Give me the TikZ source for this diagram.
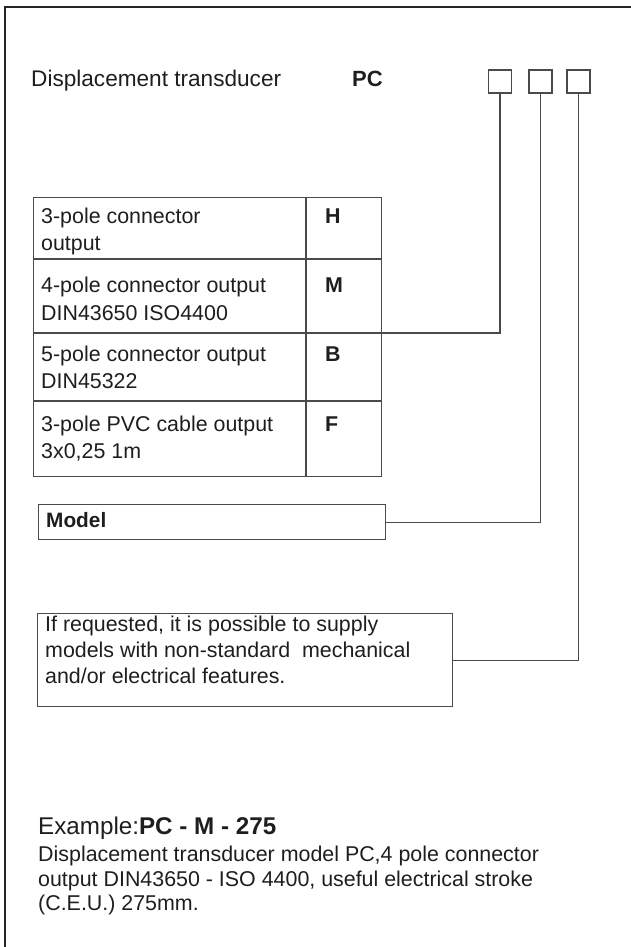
\documentclass[tikz,border=0pt]{standalone}
\usepackage{fontspec}
\setmainfont{Liberation Sans}
\definecolor{ink}{HTML}{1E1E1E}
\definecolor{rulec}{HTML}{4A4A4A}
\begin{document}
\begin{tikzpicture}[x=1pt,y=-1pt,
  txt/.style={anchor=base west, inner sep=0pt, text=ink},
  ttl/.style={txt, font=\fontsize{22.6}{26}\selectfont},
  tab/.style={txt, font=\fontsize{21.4}{26}\selectfont},
  tabb/.style={txt, font=\fontsize{21.4}{26}\selectfont\bfseries},
  note/.style={txt, font=\fontsize{21.4}{25}\selectfont},
  ex/.style={txt, font=\fontsize{21.4}{25}\selectfont},
  rl/.style={draw=rulec, line width=1.1pt},
  sqbox/.style={rl, minimum width=23pt, minimum height=23pt, inner sep=0pt},
  framebox/.style={rl, inner sep=0pt, anchor=north west}
]
\useasboundingbox (0,0) rectangle (631,947);
% outer frame (only left and top edges visible)
\draw[draw=black!85, line width=1.1pt] (5,947) -- (5,7) -- (631,7);

% title
\node[ttl] (title) at (31,87) {Displacement transducer};
\node[ttl, font=\fontsize{22}{26}\selectfont\bfseries] (pc) at (352,87) {PC};
\node[sqbox] (b1) at (500,81.5) {};
\node[sqbox] (b2) at (540.5,81.5) {};
\node[sqbox] (b3) at (578.5,81.5) {};

% table
\node[framebox, minimum width=348pt, minimum height=279pt] (table) at (33,197) {};
\draw[rl] (33,259) -- (381,259);
\draw[rl] (33,333) -- (381,333);
\draw[rl] (33,401) -- (381,401);
\draw[rl] (306,197) -- (306,476);
\coordinate (tabM) at (381,333);

\node[tab] (r1a) at (41,223) {3-pole connector};
\node[tab] (r1b) at (41,250) {output};
\node[tabb] (r1c) at (325,223) {H};
\node[tab] (r2a) at (41,292) {4-pole connector output};
\node[tab] (r2b) at (41,320) {DIN43650 ISO4400};
\node[tabb] (r2c) at (325,292) {M};
\node[tab] (r3a) at (41,361) {5-pole connector output};
\node[tab] (r3b) at (41,388) {DIN45322};
\node[tabb] (r3c) at (325,361) {B};
\node[tab] (r4a) at (41,431) {3-pole PVC cable output};
\node[tab] (r4b) at (41,458) {3x0,25 1m};
\node[tabb] (r4c) at (325,431) {F};

% model box
\node[framebox, minimum width=347pt, minimum height=35pt] (model) at (38,504) {};
\node[txt, font=\fontsize{20.8}{25}\selectfont\bfseries] (modelt) at (46,527) {Model};

% note box
\node[framebox, minimum width=415pt, minimum height=93pt] (notebox) at (37,613) {};
\node[note] (n1) at (45,631) {If requested, it is possible to supply};
\node[note] (n2) at (45,657) {models with non-standard\ \ mechanical};
\node[note] (n3) at (45,683) {and/or electrical features.};

% connectors
\draw[rl] (b1.south) |- (tabM);
\draw[rl] (b2.south) |- (model.east);
\draw[rl] (b3.south) |- (notebox.east);

% example
\node[txt, font=\fontsize{24.2}{28}\selectfont] (ex0) at (38,834) {Example:\textbf{PC - M - 275}};
\node[ex] (ex1) at (38,861) {Displacement transducer model PC,4 pole connector};
\node[ex] (ex2) at (38,886) {output DIN43650 - ISO 4400, useful electrical stroke};
\node[ex] (ex3) at (38,910) {(C.E.U.) 275mm.};
\end{tikzpicture}
\end{document}
